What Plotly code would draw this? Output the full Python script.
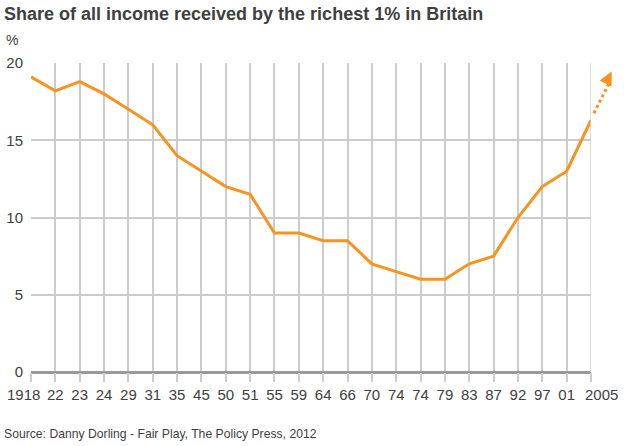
import plotly.graph_objects as go

# Year labels as printed on the axis (74 appears twice in the source)
year_labels = ['1918', '22', '23', '24', '29', '31', '35', '45', '50', '51', '55', '59',
               '64', '66', '70', '74', '74', '79', '83', '87', '92', '97', '01', '2005']
share_pct = [19.1, 18.2, 18.8, 18.0, 17.0, 16.0, 14.0, 13.0, 12.0, 11.5, 9.0, 9.0,
             8.5, 8.5, 7.0, 6.5, 6.0, 6.0, 7.0, 7.5, 10.0, 12.0, 13.0, 16.3]
y_ticks = [0, 5, 10, 15, 20]

# projected trend after the last point (dotted arrow), in axis units
trend_end = (23.85, 19.45)

orange = '#f7931e'
grid = '#cccccc'
text_col = '#404040'
font = 'Liberation Sans, Arial, sans-serif'

xs = list(range(len(year_labels)))
x_max = len(xs) - 1
y_max = 20

# end labels sit a little outside their ticks in the original,
# so they are drawn as annotations and left blank on the axis
tick_text = [''] + year_labels[1:-1] + ['']


def to_paper(x, y):
    # axis units -> paper fraction, so the arrow can sit outside the plot area
    return x / x_max, y / y_max


fig = go.Figure()
fig.add_trace(go.Scatter(
    x=xs, y=share_pct, mode='lines',
    line=dict(color=orange, width=3),
    hoverinfo='x+y', showlegend=False,
))

# dotted continuation arrow
sx, sy = to_paper(xs[-1] + 0.12, share_pct[-1] + 0.45)
ex, ey = to_paper(trend_end[0] - 0.09, trend_end[1] - 0.7)
fig.add_shape(type='line', xref='paper', yref='paper', x0=sx, y0=sy, x1=ex, y1=ey,
              line=dict(color=orange, width=3, dash='dot'))
hx, hy = to_paper(*trend_end)
fig.add_annotation(
    x=hx, y=hy, ax=-5, ay=10, xref='paper', yref='paper', text='',
    showarrow=True, arrowhead=2, arrowsize=0.9, arrowwidth=3, arrowcolor=orange,
)

fig.update_layout(
    width=624, height=446,
    margin=dict(l=31, r=33, t=63, b=74),
    paper_bgcolor='white', plot_bgcolor='white',
    font=dict(family=font, color=text_col, size=15),
    showlegend=False,
    xaxis=dict(
        range=[0, x_max], tickvals=xs, ticktext=tick_text, tickangle=0,
        automargin=False,
        showgrid=True, gridcolor=grid, gridwidth=1.5,
        ticks='outside', ticklen=9, tickcolor=grid, tickwidth=1.5,
        tickfont=dict(size=15, color=text_col),
        zeroline=False, showline=False, fixedrange=True,
    ),
    yaxis=dict(
        range=[0, y_max], tickvals=y_ticks, automargin=False,
        showgrid=True, gridcolor=grid, gridwidth=1.5,
        zeroline=True, zerolinecolor='#999999', zerolinewidth=3,
        ticks='', ticklabelstandoff=7,
        tickfont=dict(size=15, color=text_col),
        showline=False, fixedrange=True,
    ),
)

fig.add_shape(type='line', xref='x', yref='paper', x0=x_max, x1=x_max,
              y0=0, y1=1, line=dict(color=grid, width=1.5))

# first and last year labels, nudged outwards
for i, shift in ((0, -8), (x_max, 10)):
    fig.add_annotation(
        text=year_labels[i], x=xs[i], y=0, xref='x', yref='paper',
        xanchor='center', yanchor='top', yshift=-12, xshift=shift,
        showarrow=False, font=dict(size=15, color=text_col, family=font),
    )

fig.add_annotation(
    text='<b>Share of all income received by the richest 1% in Britain</b>',
    xref='paper', yref='paper', x=-0.052, y=1.16, xanchor='left', yanchor='middle',
    showarrow=False, font=dict(size=18, color=text_col, family=font),
)
fig.add_annotation(
    text='%', xref='paper', yref='paper', x=-0.048, y=1.075,
    xanchor='left', yanchor='middle', showarrow=False,
    font=dict(size=14, color=text_col, family=font),
)
fig.add_annotation(
    text='Source: Danny Dorling - Fair Play, The Policy Press, 2012',
    xref='paper', yref='paper', x=-0.052, y=-0.2, xanchor='left', yanchor='middle',
    showarrow=False, font=dict(size=12.2, color=text_col, family=font),
)

fig.write_html('out.html', config={'displayModeBar': False},
               post_script="document.body.style.margin='0';")
